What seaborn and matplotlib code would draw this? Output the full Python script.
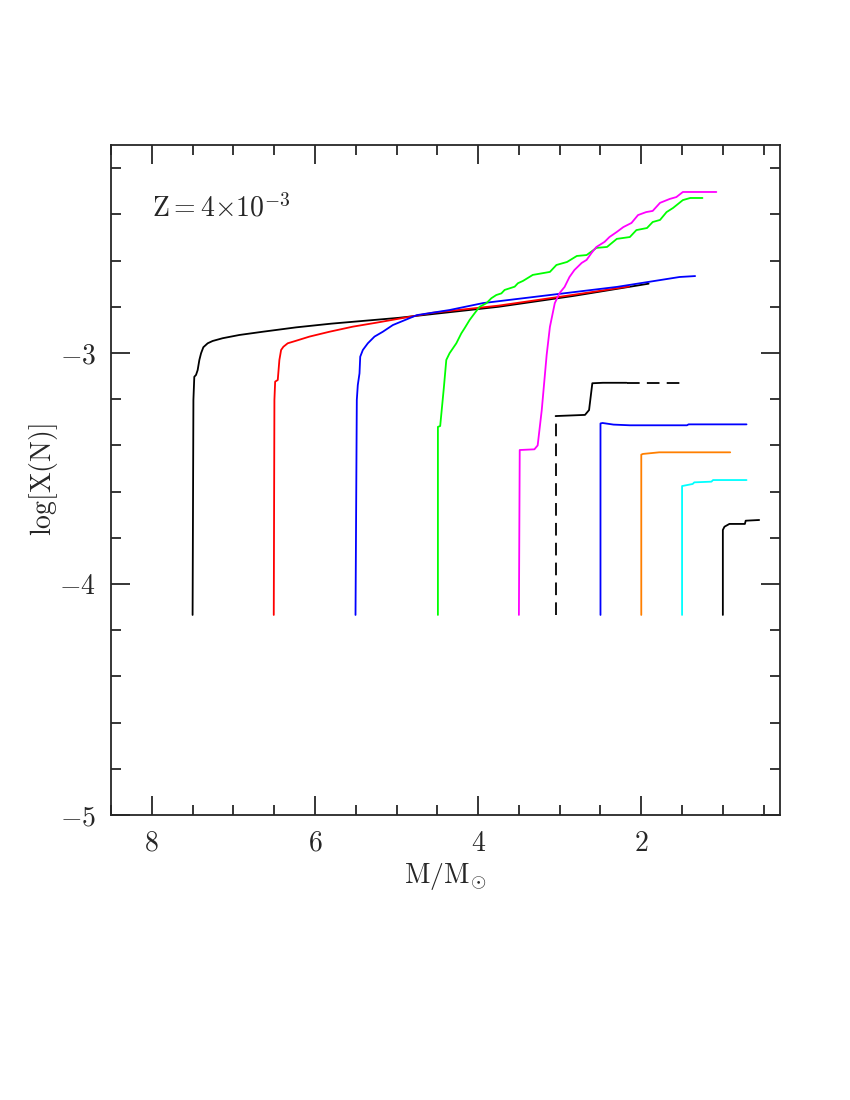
import matplotlib
matplotlib.use("Agg")
import matplotlib.pyplot as plt
import seaborn as sns
from matplotlib.ticker import MultipleLocator

# tracks: current mass (x) vs log X(N) (y)
m75_x = [7.50, 7.49, 7.479, 7.458, 7.438, 7.417, 7.396, 7.368, 7.315, 7.254, 7.131, 6.926,
         6.64, 6.23, 5.80, 4.98, 3.75, 2.83, 1.91]
m75_y = [-4.134, -3.203, -3.103, -3.095, -3.074, -3.03, -3.001, -2.975, -2.958, -2.948, -2.936,
         -2.922, -2.908, -2.889, -2.873, -2.848, -2.80, -2.753, -2.70]

m65_x = [6.505, 6.497, 6.488, 6.456, 6.436, 6.415, 6.387, 6.334, 6.231, 6.067, 5.822, 5.536,
         5.25, 4.56, 3.75, 2.83, 2.15]
m65_y = [-4.134, -3.203, -3.124, -3.117, -3.03, -2.987, -2.973, -2.958, -2.947, -2.929, -2.908,
         -2.886, -2.869, -2.826, -2.795, -2.748, -2.712]

m55_x = [5.503, 5.487, 5.475, 5.454, 5.445, 5.413, 5.352, 5.27, 5.168, 5.045, 4.75, 4.35, 3.94,
         3.12, 2.30, 1.53, 1.34]
m55_y = [-4.134, -3.203, -3.139, -3.088, -3.016, -2.987, -2.958, -2.929, -2.908, -2.879, -2.836,
         -2.814, -2.784, -2.749, -2.714, -2.671, -2.667]

m45_x = [4.493, 4.493, 4.465, 4.42, 4.39, 4.35, 4.267, 4.206, 4.166, 4.104, 4.043, 3.982, 3.90,
         3.838, 3.777, 3.715, 3.675, 3.613, 3.552, 3.512, 3.45, 3.33, 3.12, 3.04, 2.91, 2.79,
         2.67, 2.55, 2.42, 2.30, 2.14, 2.06, 1.93, 1.86, 1.77, 1.69, 1.61, 1.49, 1.40, 1.25]
m45_y = [-4.134, -3.32, -3.316, -3.15, -3.03, -3.001, -2.958, -2.915, -2.893, -2.857, -2.828,
         -2.80, -2.785, -2.763, -2.749, -2.742, -2.727, -2.72, -2.713, -2.698, -2.688, -2.662,
         -2.649, -2.619, -2.606, -2.58, -2.576, -2.545, -2.541, -2.506, -2.498, -2.468, -2.459,
         -2.433, -2.424, -2.39, -2.372, -2.338, -2.329, -2.329]

m35_x = [3.50, 3.49, 3.31, 3.27, 3.22, 3.16, 3.12, 3.06, 3.00, 2.94, 2.88, 2.82, 2.73, 2.67,
         2.61, 2.55, 2.45, 2.39, 2.30, 2.22, 2.12, 2.04, 1.94, 1.86, 1.77, 1.65, 1.57, 1.49, 1.08]
m35_y = [-4.134, -3.42, -3.417, -3.40, -3.247, -3.009, -2.887, -2.784, -2.74, -2.714, -2.671,
         -2.641, -2.61, -2.597, -2.567, -2.541, -2.519, -2.498, -2.476, -2.455, -2.437, -2.403,
         -2.39, -2.385, -2.35, -2.333, -2.325, -2.303, -2.303]

# 3 Msun track: dashed start, solid middle, dashed tail
m30_x = [3.05, 3.05, 2.69, 2.64, 2.60, 2.47, 2.18, 1.47]
m30_y = [-4.134, -3.273, -3.268, -3.247, -3.131, -3.129, -3.129, -3.129]

m25_x = [2.50, 2.50, 2.475, 2.34, 2.14, 1.44, 1.42, 0.71]
m25_y = [-4.134, -3.305, -3.303, -3.31, -3.313, -3.313, -3.309, -3.309]

m20_x = [2.00, 2.00, 1.98, 1.78, 0.91]
m20_y = [-4.134, -3.44, -3.437, -3.43, -3.43]

m15_x = [1.50, 1.50, 1.37, 1.35, 1.14, 1.12, 0.71]
m15_y = [-4.134, -3.576, -3.567, -3.56, -3.557, -3.55, -3.55]

m10_x = [1.00, 1.00, 0.98, 0.92, 0.73, 0.72, 0.555]
m10_y = [-4.134, -3.766, -3.752, -3.74, -3.74, -3.726, -3.723]

sns.set_style("ticks")
plt.rcParams["font.family"] = "serif"
plt.rcParams["font.serif"] = ["cmr10"]
plt.rcParams["mathtext.fontset"] = "cm"
plt.rcParams["axes.formatter.use_mathtext"] = True

fig = plt.figure(figsize=(8.5, 11), dpi=100)
ax = fig.add_axes([0.1306, 0.2591, 0.787, 0.609])

lw = 1.3
tracks = [
    (m75_x, m75_y, "black"),
    (m65_x, m65_y, "red"),
    (m55_x, m55_y, "blue"),
    (m45_x, m45_y, "#00ff00"),
    (m35_x, m35_y, "magenta"),
    (m25_x, m25_y, "blue"),
    (m20_x, m20_y, "#ff7f00"),
    (m15_x, m15_y, "cyan"),
    (m10_x, m10_y, "black"),
]
for x, y, c in tracks:
    sns.lineplot(x=x, y=y, sort=False, estimator=None, color=c, lw=lw, ax=ax)

# the dashed 3 Msun track in three pieces
sns.lineplot(x=m30_x[:2], y=m30_y[:2], sort=False, estimator=None, color="black",
             lw=lw, ax=ax, dashes=False, linestyle=(0, (7, 4)))
sns.lineplot(x=m30_x[1:7], y=m30_y[1:7], sort=False, estimator=None, color="black", lw=lw, ax=ax)
sns.lineplot(x=m30_x[6:], y=m30_y[6:], sort=False, estimator=None, color="black",
             lw=lw, ax=ax, dashes=False, linestyle=(0, (7, 4)))

ax.set_xlim(8.5, 0.3)
ax.set_ylim(-5, -2.1)
ax.xaxis.set_major_locator(MultipleLocator(2))
ax.xaxis.set_minor_locator(MultipleLocator(0.5))
ax.yaxis.set_major_locator(MultipleLocator(1))
ax.yaxis.set_minor_locator(MultipleLocator(0.2))
ax.tick_params(which="both", direction="in", top=True, right=True, width=1.3, labelsize=20)
ax.tick_params(which="major", length=14, pad=11)
ax.tick_params(which="minor", length=7)
for s in ax.spines.values():
    s.set_linewidth(1.3)

ax.set_xlabel(r"$\mathrm{M/M_{\odot}}$", fontsize=20, labelpad=3)
ax.set_ylabel(r"$\mathrm{log[X(N)]}$", fontsize=20, labelpad=-1)
ax.text(8.0, -2.372, r"$\mathrm{Z{=}4{\times}10^{-3}}$", fontsize=20, va="center", ha="left")

fig.savefig("out.png", dpi=100)
